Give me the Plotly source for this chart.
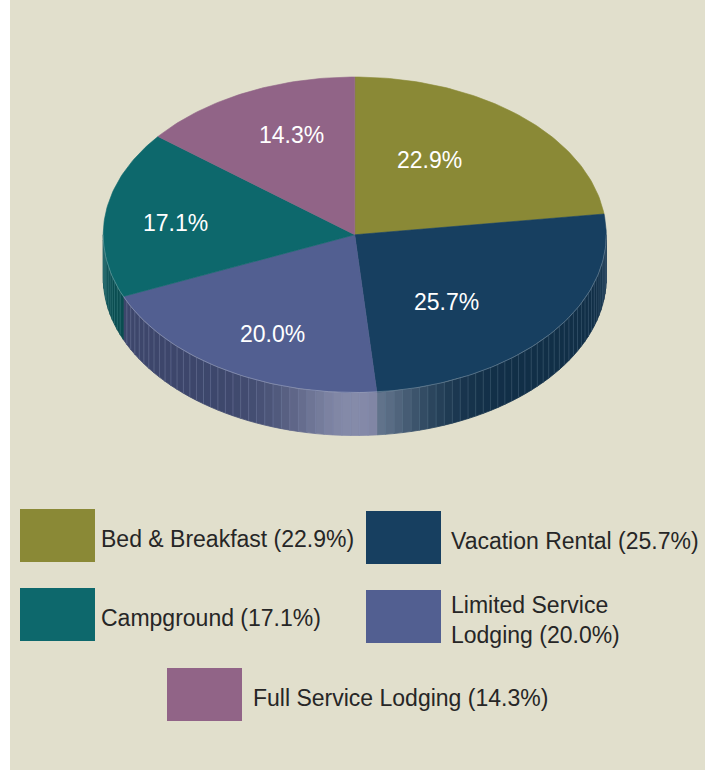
import math
import plotly.graph_objects as go

# ---------------- data ----------------
categories = ["Bed & Breakfast", "Vacation Rental", "Limited Service Lodging",
              "Campground", "Full Service Lodging"]
shares = [22.9, 25.7, 20.0, 17.1, 14.3]
colors = ["#8a8936", "#173f60", "#525f91", "#0d686c", "#916487"]
legend_breaks = {"Limited Service Lodging": "Limited Service<br>Lodging"}

# ---------------- layout constants ----------------
W, H = 711, 770
BG = "#e1dfcc"
FONT = "Arial, 'Liberation Sans', sans-serif"
CX, CY = 354.75, 234.75      # centre of top face (in axis units = px)
RX, RY = 251.5, 157.75       # radii of top ellipse
DEPTH = 43                   # thickness of the pie
# label placement per slice: (radius fraction, angular nudge deg)
label_place = [(0.56, -9), (0.56, 10.6), (0.71, -3.7), (0.715, -1.7), (0.68, 4.2)]
# legend slots per category: (box x, box y, text x)
legend_slots = [(20, 509, 99), (366, 511, 449), (366, 590, 449),
                (20, 588, 99), (167, 668, 251)]
BOX_W, BOX_H = 75, 53


def hex_rgb(h):
    h = h.lstrip("#")
    return tuple(int(h[i:i + 2], 16) for i in (0, 2, 4))


def rgb_str(c):
    return "rgb(%d,%d,%d)" % tuple(int(round(v)) for v in c)


def pt(theta, k=1.0, dy=0.0):
    t = math.radians(theta)
    return CX + k * RX * math.sin(t), CY - k * RY * math.cos(t) + dy


def side_color(base, theta):
    dark = [v * 0.74 for v in base]
    h = 0.45 * math.exp(-((theta - 180.0) / 16.0) ** 2)
    hl = (222, 222, 244)
    return [d * (1 - h) + l * h for d, l in zip(dark, hl)]


fig = go.Figure()

# slice angular extents
total = sum(shares)
starts, ends = [], []
acc = 0.0
for s in shares:
    starts.append(acc / total * 360.0)
    acc += s
    ends.append(acc / total * 360.0)

# ---------------- side wall (front half) ----------------
for i, base_hex in enumerate(colors):
    base = hex_rgb(base_hex)
    a, b = max(starts[i], 90.0), min(ends[i], 270.0)
    if b <= a:
        continue
    n = max(1, math.ceil((b - a) / 2.0))
    step = (b - a) / n
    sep_x, sep_y = [], []
    for j in range(n):
        t0, t1 = a + j * step, a + (j + 1) * step
        ts = [t0 + (t1 - t0) * q / 3 for q in range(4)]
        xs, ys = [], []
        for t in ts:
            x, y = pt(t)
            xs.append(x); ys.append(y)
        for t in reversed(ts):
            x, y = pt(t, dy=DEPTH)
            xs.append(x); ys.append(y)
        xs.append(xs[0]); ys.append(ys[0])
        col = rgb_str(side_color(base, (t0 + t1) / 2))
        fig.add_trace(go.Scatter(x=xs, y=ys, mode="lines", fill="toself",
                                 fillcolor=col, line=dict(color=col, width=0.8),
                                 hoverinfo="skip", showlegend=False))
        if j > 0:
            x0, y0 = pt(t0)
            x1, y1 = pt(t0, dy=DEPTH)
            sep_x += [x0, x1, None]
            sep_y += [y0, y1, None]
    if sep_x:
        lc = [min(255, v * 0.74 + 70) for v in base]
        fig.add_trace(go.Scatter(x=sep_x, y=sep_y, mode="lines",
                                 line=dict(color=rgb_str(lc), width=0.7),
                                 opacity=0.55, hoverinfo="skip", showlegend=False))

# ---------------- top faces ----------------
for i, col in enumerate(colors):
    a, b = starts[i], ends[i]
    n = max(2, int(math.ceil(b - a)))
    xs, ys = [CX], [CY]
    for q in range(n + 1):
        x, y = pt(a + (b - a) * q / n)
        xs.append(x); ys.append(y)
    xs.append(CX); ys.append(CY)
    fig.add_trace(go.Scatter(x=xs, y=ys, mode="lines", fill="toself",
                             fillcolor=col, line=dict(color=col, width=0.6),
                             hoverinfo="skip", showlegend=False,
                             name=categories[i]))

# faint rim along the front edge of the top face
rim_x, rim_y = [], []
for q in range(181):
    x, y = pt(90 + q)
    rim_x.append(x); rim_y.append(y)
fig.add_trace(go.Scatter(x=rim_x, y=rim_y, mode="lines",
                         line=dict(color="rgba(255,255,255,0.25)", width=1),
                         hoverinfo="skip", showlegend=False))

# ---------------- slice labels ----------------
annotations = []
for i, s in enumerate(shares):
    mid = (starts[i] + ends[i]) / 2 + label_place[i][1]
    x, y = pt(mid, k=label_place[i][0])
    annotations.append(dict(x=x, y=y, xref="x", yref="y", text="%.1f%%" % s,
                            showarrow=False, xanchor="center", yanchor="middle",
                            font=dict(family=FONT, size=23, color="white")))

# ---------------- legend (drawn) ----------------
shapes = []
for i, cat in enumerate(categories):
    bx, by, tx = legend_slots[i]
    shapes.append(dict(type="rect", xref="x", yref="y", x0=bx, x1=bx + BOX_W,
                       y0=by, y1=by + BOX_H, fillcolor=colors[i],
                       line=dict(width=0), layer="above"))
    label = "%s (%.1f%%)" % (legend_breaks.get(cat, cat), shares[i])
    annotations.append(dict(x=tx, y=by + BOX_H / 2 + 3, xref="x", yref="y",
                            text=label, showarrow=False, xanchor="left",
                            yanchor="middle", align="left",
                            font=dict(family=FONT, size=23, color="#262626")))

fig.update_layout(
    width=W, height=H,
    margin=dict(l=10, r=6, t=0, b=0),
    paper_bgcolor="white", plot_bgcolor=BG,
    xaxis=dict(range=[10, 705], visible=False, fixedrange=True),
    yaxis=dict(range=[770, 0], visible=False, fixedrange=True),
    shapes=shapes, annotations=annotations,
    showlegend=False,
)

fig.write_html("out.html",
               config={"displayModeBar": False},
               post_script="document.body.style.margin='0';"
                           "document.body.style.overflow='hidden';")
